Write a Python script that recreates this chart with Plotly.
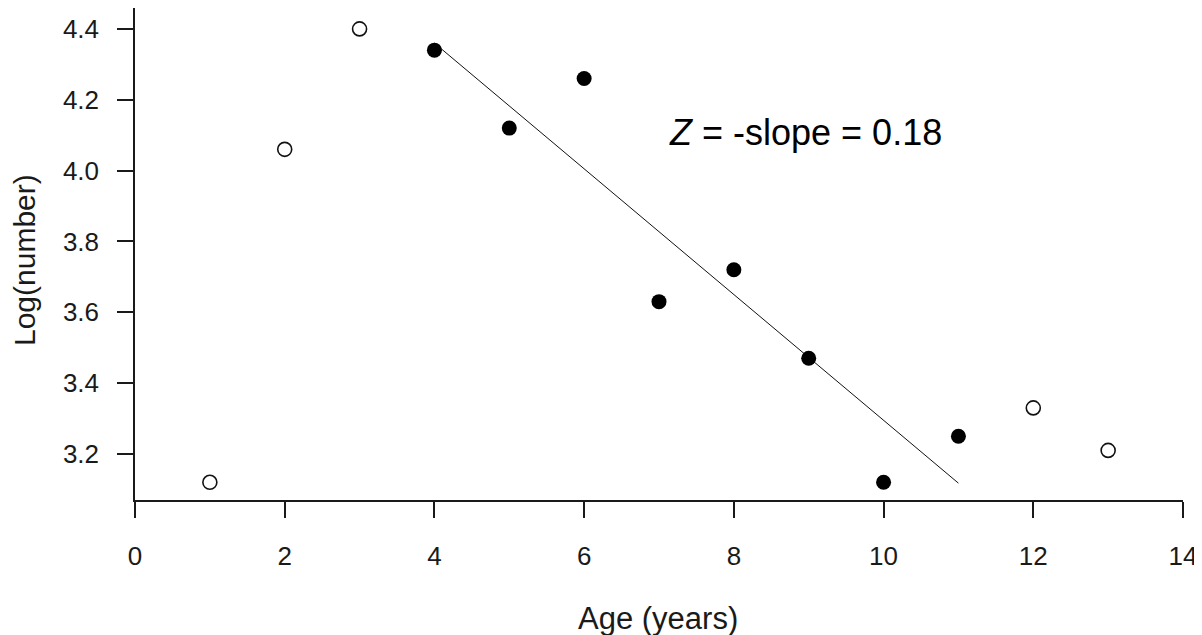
import numpy as np
import plotly.graph_objects as go

# Data
ages = [1, 2, 3, 4, 5, 6, 7, 8, 9, 10, 11, 12, 13]
log_number = [3.12, 4.06, 4.40, 4.34, 4.12, 4.26, 3.63, 3.72, 3.47, 3.12, 3.25, 3.33, 3.21]
in_fit = [False, False, False, True, True, True, True, True, True, True, True, False, False]

x_ticks = [0, 2, 4, 6, 8, 10, 12, 14]
y_ticks = [3.2, 3.4, 3.6, 3.8, 4.0, 4.2, 4.4]
y_tick_text = ["3.2", "3.4", "3.6", "3.8", "4.0", "4.2", "4.4"]

x_title = "Age (years)"
y_title = "Log(number)"
z_text = "<i>Z</i> = -slope = 0.18"

ages_a = np.array(ages, dtype=float)
logs_a = np.array(log_number)
mask = np.array(in_fit)

fit_x = ages_a[mask]
fit_y = logs_a[mask]
slope, intercept = np.polyfit(fit_x, fit_y, 1)
line_x = np.array([fit_x.min(), fit_x.max()])
line_y = intercept + slope * line_x

FONT = "Liberation Sans, Arial, sans-serif"
INK = "#1a1a1a"

# the page body has an 8px margin, so the figure is drawn 8px in from the top-left
OFF = 8
PL, PT, PR, PB = 135, 8, 1183, 500  # plot area in window pixels
PW, PH = PR - PL, PB - PT

fig = go.Figure()

fig.add_trace(go.Scatter(
    x=line_x, y=line_y, mode="lines",
    line=dict(color="#111111", width=1), hoverinfo="skip", showlegend=False))

fig.add_trace(go.Scatter(
    x=ages_a[~mask], y=logs_a[~mask], mode="markers",
    marker=dict(symbol="circle-open", size=14, color="#111111", line=dict(width=1.6)),
    showlegend=False))

fig.add_trace(go.Scatter(
    x=ages_a[mask], y=logs_a[mask], mode="markers",
    marker=dict(symbol="circle", size=15, color="#000000", line=dict(width=0)),
    showlegend=False))

fig.update_layout(
    width=1202 - OFF, height=635 - OFF,
    margin=dict(l=PL - OFF, r=1202 - PR, t=max(PT - OFF, 0), b=635 - PB, autoexpand=False),
    paper_bgcolor="white", plot_bgcolor="white",
    font=dict(family=FONT, color=INK),
    showlegend=False,
    xaxis=dict(
        range=[0, 14], tickvals=x_ticks, ticktext=[str(v) for v in x_ticks],
        showgrid=False, zeroline=False,
        showline=True, linecolor=INK, linewidth=1.5,
        ticks="outside", ticklen=16, tickwidth=1.5, tickcolor=INK,
        tickfont=dict(size=26, family=FONT, color=INK),
        ticklabelstandoff=16,
    ),
    yaxis=dict(
        range=[3.070, 4.459], tickvals=y_ticks, ticktext=y_tick_text,
        showgrid=False, zeroline=False,
        showline=True, linecolor=INK, linewidth=1.5,
        ticks="outside", ticklen=16, tickwidth=1.5, tickcolor=INK,
        tickfont=dict(size=26, family=FONT, color=INK),
        ticklabelstandoff=13,
    ),
    annotations=[
        dict(text=x_title, xref="paper", yref="paper", x=(658 - PL) / PW, y=-(618 - PB) / PH,
             showarrow=False, xanchor="center", yanchor="middle",
             font=dict(size=31, family=FONT, color=INK)),
        dict(text=y_title, xref="paper", yref="paper", x=-(PL - 24) / PW, y=(PB - 260) / PH,
             showarrow=False, xanchor="center", yanchor="middle", textangle=-90,
             font=dict(size=30, family=FONT, color=INK)),
        dict(text=z_text, xref="paper", yref="paper", x=(805 - PL) / PW, y=(PB - 133) / PH,
             showarrow=False, xanchor="center", yanchor="middle",
             font=dict(size=36, family=FONT, color="#000000")),
    ],
)

fig.write_html("out.html")
